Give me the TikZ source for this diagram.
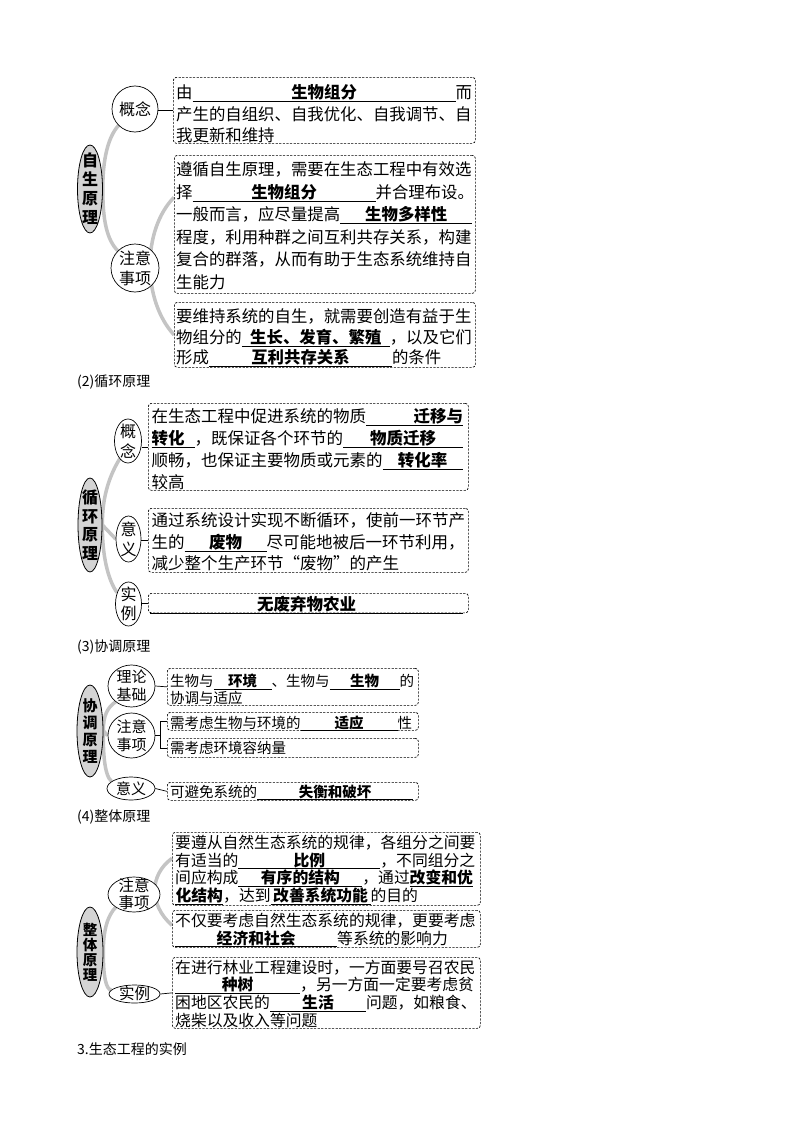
\documentclass[tikz,border=0pt]{standalone}
\usepackage{fontspec}
\setmainfont{Noto Sans CJK SC}
\usetikzlibrary{shapes.geometric,calc}
\pgfdeclarelayer{bg}
\pgfsetlayers{bg,main}
\newcommand\fs[2]{\fontsize{#1}{#2}\selectfont}
\newcommand\bk[3][c]{\leavevmode\rlap{\rule[-0.2em]{#2pt}{0.7pt}}\makebox[#2pt][#1]{\bfseries #3}}
\tikzset{
  dbox/.style={draw, dash pattern=on 2.2pt off 1.4pt, rounded corners=3pt, line width=0.7pt, inner sep=0pt, anchor=north west},
  txt/.style={inner sep=0pt, anchor=north west, align=left},
  bub/.style={draw, ellipse, fill=white, inner sep=0pt, line width=0.7pt},
  mainell/.style={draw, ellipse, fill=black!17, inner sep=0pt, line width=0.8pt},
  lab/.style={align=center, inner sep=0pt},
  greyarc/.style={draw=black!23, line width=3.5pt},
  conn/.style={line width=0.7pt},
  hdr/.style={anchor=west, inner sep=0pt, font=\fs{14}{16}},
}
\begin{document}
\begin{tikzpicture}[x=1pt,y=-1pt]
\useasboundingbox (0,0) rectangle (800,1132);

% ---------- Section 1 ----------
\node[dbox, minimum width=302pt, minimum height=66pt] (A1) at (173,77) {};
\node[txt, text width=296pt, font=\fs{16.4}{21.5}] (A1t) at ($(A1.north west)+(3,7.5)$)
  {由\bk{263}{生物组分}而\\产生的自组织、自我优化、自我调节、自\\我更新和维持};
\node[dbox, minimum width=301pt, minimum height=138pt] (A2) at (174,155) {};
\node[txt, text width=296pt, font=\fs{16.4}{22.6}] (A2t) at ($(A2.north west)+(2,6.5)$)
  {遵循自生原理，需要在生态工程中有效选\\择\bk{183}{生物组分}并合理布设。\\一般而言，应尽量提高\bk{132}{生物多样性}\\程度，利用种群之间互利共存关系，构建\\复合的群落，从而有助于生态系统维持自\\生能力};
\node[dbox, minimum width=301pt, minimum height=65pt] (A3) at (174,302) {};
\node[txt, text width=296pt, font=\fs{16.4}{20.5}] (A3t) at ($(A3.north west)+(2,6.5)$)
  {要维持系统的自生，就需要创造有益于生\\物组分的\bk{148}{生长、发育、繁殖}，以及它们\\形成\bk{183}{互利共存关系}的条件};
\node[bub, minimum width=46pt, minimum height=46pt, label={[lab,font=\fs{16}{18}]center:概念}] (A1c) at (135,109) {};
\node[bub, minimum width=48pt, minimum height=48pt, label={[lab,font=\fs{16}{20}]center:{注意\\事项}}] (A2c) at (135,268) {};
\node[mainell, minimum width=25pt, minimum height=88pt, label={[lab,font=\bfseries\fs{16}{19}]center:{自\\生\\原\\理}}] (E1) at (90,189) {};
\draw[conn] (A1.west -| A1c.east) -- (A1.west);

% ---------- Section 2 ----------
\node[hdr] (H2) at (77,382) {(2)循环原理};
\node[dbox, minimum width=320pt, minimum height=87pt] (B1) at (148,403) {};
\node[txt, text width=313pt, font=\fs{16.5}{22}] (B1t) at ($(B1.north west)+(3.5,5.5)$)
  {在生态工程中促进系统的物质\bk[r]{97}{迁移与}\\\bk[l]{43}{转化}，既保证各个环节的\bk{120}{物质迁移}\\顺畅，也保证主要物质或元素的\bk{80}{转化率}\\较高};
\node[dbox, minimum width=320pt, minimum height=64pt] (B2) at (148,508) {};
\node[txt, text width=313pt, font=\fs{16.5}{21.5}] (B2t) at ($(B2.north west)+(3.5,4.5)$)
  {通过系统设计实现不断循环，使前一环节产\\生的\bk{82}{废物}尽可能地被后一环节利用，\\减少整个生产环节“废物”的产生};
\node[dbox, minimum width=320pt, minimum height=19.5pt] (B3) at (148,593) {};
\node[txt, text width=313pt, font=\fs{16.5}{20}] (B3t) at ($(B3.north west)+(2,2.5)$)
  {\bk{313}{无废弃物农业}};
\node[bub, minimum width=27pt, minimum height=44pt, label={[lab,font=\fs{16}{20}]center:{概\\念}}] (B1c) at (128,441) {};
\node[bub, minimum width=25pt, minimum height=46pt, label={[lab,font=\fs{16}{20}]center:{意\\义}}] (B2c) at (128.5,539) {};
\node[bub, minimum width=26pt, minimum height=44pt, label={[lab,font=\fs{16}{19}]center:{实\\例}}] (B3c) at (128.5,604) {};
\node[mainell, minimum width=24pt, minimum height=94pt, label={[lab,font=\bfseries\fs{16}{18.5}]center:{循\\环\\原\\理}}] (E2) at (90,525) {};
\draw[conn] (B1.west -| B1c.east) -- (B1.west);
\draw[conn] (B2.west -| B2c.east) -- (B2.west);
\draw[conn] (B3.west -| B3c.east) -- (B3.west);

% ---------- Section 3 ----------
\node[hdr] (H3) at (77,647) {(3)协调原理};
\node[dbox, minimum width=251pt, minimum height=37pt] (C1) at (167,668) {};
\node[txt, text width=246pt, font=\fs{14.5}{16.7}] (C1t) at ($(C1.north west)+(3,6)$)
  {生物与\bk{58}{环境}、生物与\bk{70}{生物}的\\协调与适应};
\node[dbox, minimum width=251pt, minimum height=18pt] (C2) at (167,712) {};
\node[txt, text width=246pt, font=\fs{14.5}{16.7}] (C2t) at ($(C2.north west)+(3,3.3)$)
  {需考虑生物与环境的\bk{97}{适应}性};
\node[dbox, minimum width=251pt, minimum height=19pt] (C3) at (167,738) {};
\node[txt, text width=246pt, font=\fs{14.5}{16.7}] (C3t) at ($(C3.north west)+(3,2.8)$)
  {需考虑环境容纳量};
\node[dbox, minimum width=251pt, minimum height=18pt] (C4) at (167,782) {};
\node[txt, text width=246pt, font=\fs{14.5}{16.7}] (C4t) at ($(C4.north west)+(3,2.5)$)
  {可避免系统的\bk{156}{失衡和破坏}};
\node[bub, minimum width=47pt, minimum height=42pt, label={[lab,font=\fs{15}{18}]center:{理论\\基础}}] (T3) at (131.5,686) {};
\node[bub, minimum width=47pt, minimum height=45pt, label={[lab,font=\fs{15}{18}]center:{注意\\事项}}] (Z3) at (131.5,735.5) {};
\node[bub, minimum width=48pt, minimum height=23pt, label={[lab,font=\fs{15}{18}]center:意义}] (Y3) at (131,788.5) {};
\node[mainell, minimum width=26pt, minimum height=92pt, label={[lab,font=\bfseries\fs{15}{17}]center:{协\\调\\原\\理}}] (E3) at (90,731) {};
\draw[conn] (T3.east) -- (C1.west);
\coordinate (br3) at ($(C2.west)+(-7,0)$);
\draw[conn] (C2.west) -- (br3) |- (C3.west);
\draw[conn] (Z3.east) -- (Z3.east -| br3);
\draw[conn] (Y3.east) -- (C4.west);

% ---------- Section 4 ----------
\node[hdr] (H4) at (77,817) {(4)整体原理};
\node[dbox, minimum width=308pt, minimum height=73pt] (D1) at (172,832) {};
\node[txt, text width=302pt, font=\fs{15.8}{17.7}] (D1t) at ($(D1.north west)+(3,2.7)$)
  {要遵从自然生态系统的规律，各组分之间要\\有适当的\bk{142}{比例}，不同组分之\\间应构成\bk{124}{有序的结构}，通过\bk{63}{改变和优}\\\bk{48}{化结构}，达到\bk{100}{改善系统功能}的目的};
\node[dbox, minimum width=308pt, minimum height=37pt] (D2) at (172,910) {};
\node[txt, text width=302pt, font=\fs{15.8}{17.7}] (D2t) at ($(D2.north west)+(3,2.7)$)
  {不仅要考虑自然生态系统的规律，更要考虑\\\bk{162}{经济和社会}等系统的影响力};
\node[dbox, minimum width=308pt, minimum height=71pt] (D3) at (172,957) {};
\node[txt, text width=302pt, font=\fs{15.8}{17.7}] (D3t) at ($(D3.north west)+(3,2.7)$)
  {在进行林业工程建设时，一方面要号召农民\\\bk{125}{种树}，另一方面一定要考虑贫\\困地区农民的\bk{96}{生活}问题，如粮食、\\烧柴以及收入等问题};
\node[bub, minimum width=52pt, minimum height=35pt, label={[lab,font=\fs{15.5}{17}]center:{注意\\事项}}] (Z4) at (134,894.5) {};
\node[bub, minimum width=51pt, minimum height=18pt, label={[lab,font=\fs{15.5}{17}]center:实例}] (Y4) at (134.5,994) {};
\node[mainell, minimum width=26pt, minimum height=90pt, label={[lab,font=\bfseries\fs{14.5}{15}]center:{整\\体\\原\\理}}] (E4) at (90,952) {};
\draw[conn] (Y4.east) -- (D3.west);

\node[hdr] (H5) at (77,1049) {3.生态工程的实例};

% ---------- grey arcs (background) ----------
\begin{pgfonlayer}{bg}
\fill[white] (0,0) rectangle (800,1132);
\draw[greyarc] (E1.east) .. controls (102.5,160) and (108,137) .. (A1c.225);
\draw[greyarc] (E1.east) .. controls (102.5,220) and (107,240) .. (A2c.135);
\draw[greyarc] ([yshift=27pt]A2.west) .. controls (142,230) and (142,300) .. (A3.west);
\draw[greyarc] (E2.east) .. controls (102,500) and (108,478) .. (B1c.245);
\draw[greyarc] (E2.east) .. controls (102,555) and (108,580) .. (B3c.135);
\draw[greyarc] (E2.east) -- (B2c.west);
\draw[greyarc] (E3.east) .. controls (103,715) and (108,707) .. (T3.225);
\draw[greyarc] (E3.east) .. controls (103,750) and (104,775) .. (Y3.160);
\draw[greyarc] (E3.east) -- (Z3.west);
\draw[greyarc] (E4.east) .. controls (103,930) and (108,915) .. (Z4.215);
\draw[greyarc] (E4.east) .. controls (103,975) and (106,990) .. (Y4.170);
\draw[greyarc] ([yshift=10.5pt]D1.west) .. controls (149,875) and (149,905) .. ([yshift=3.5pt]D2.west);
\end{pgfonlayer}
\end{tikzpicture}
\end{document}
